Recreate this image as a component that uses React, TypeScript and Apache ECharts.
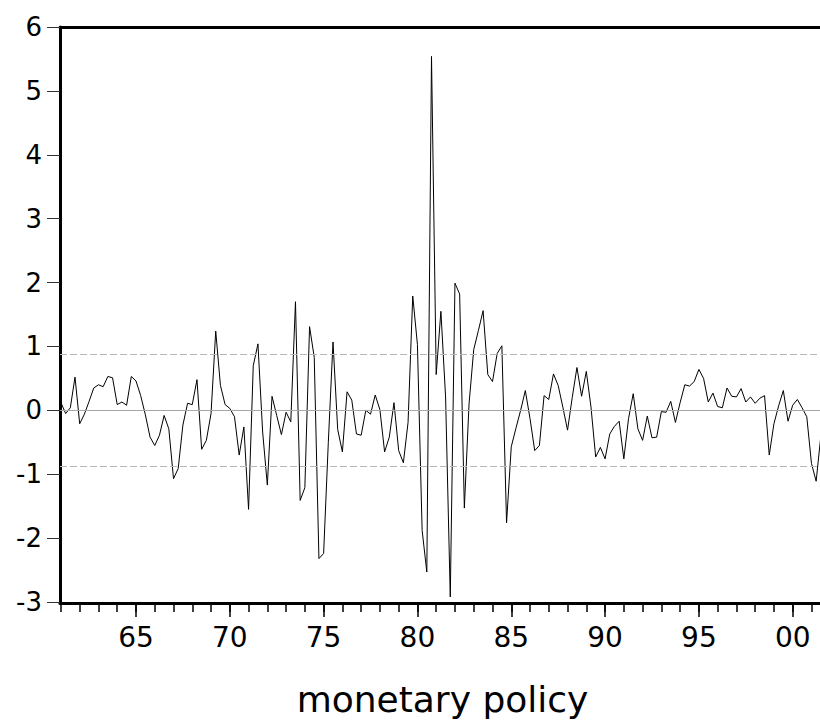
import React, { useEffect, useRef } from "react";
import * as echarts from "echarts";

// Quarterly series, first observation 1961Q1
const startYear = 1961;
const shock = [
  0.12, -0.05, 0.04, 0.52, -0.21, -0.06, 0.14, 0.35, 0.40, 0.37,
  0.53, 0.51, 0.09, 0.13, 0.08, 0.53, 0.46, 0.23, -0.07, -0.42,
  -0.55, -0.39, -0.08, -0.29, -1.07, -0.91, -0.23, 0.11, 0.09, 0.48,
  -0.61, -0.47, -0.05, 1.24, 0.39, 0.09, 0.03, -0.10, -0.70, -0.26,
  -1.55, 0.70, 1.04, -0.34, -1.17, 0.22, -0.08, -0.38, -0.03, -0.18,
  1.70, -1.41, -1.21, 1.31, 0.83, -2.32, -2.24, -0.50, 1.07, -0.30,
  -0.65, 0.29, 0.16, -0.37, -0.39, 0.00, -0.06, 0.24, 0.01, -0.65,
  -0.42, 0.12, -0.63, -0.82, -0.19, 1.79, 1.03, -1.88, -2.53, 5.54,
  0.56, 1.55, 0.21, -2.92, 1.99, 1.82, -1.53, 0.10, 0.95, 1.25,
  1.56, 0.56, 0.45, 0.89, 1.01, -1.76, -0.57, -0.28, 0.00, 0.31,
  -0.13, -0.63, -0.55, 0.23, 0.17, 0.57, 0.39, 0.05, -0.31, 0.20,
  0.67, 0.22, 0.61, 0.05, -0.73, -0.58, -0.76, -0.37, -0.25, -0.17,
  -0.76, -0.13, 0.26, -0.29, -0.47, -0.09, -0.43, -0.42, -0.02, -0.03,
  0.14, -0.19, 0.12, 0.40, 0.38, 0.45, 0.64, 0.50, 0.13, 0.27,
  0.06, 0.04, 0.35, 0.22, 0.21, 0.34, 0.13, 0.21, 0.11, 0.19,
  0.23, -0.70, -0.21, 0.07, 0.31, -0.17, 0.08, 0.17, 0.04, -0.10,
  -0.83, -1.11, -0.40,
];

const yearTicks = [
  1961, 1962, 1963, 1964, 1965, 1966, 1967, 1968, 1969, 1970,
  1971, 1972, 1973, 1974, 1975, 1976, 1977, 1978, 1979, 1980,
  1981, 1982, 1983, 1984, 1985, 1986, 1987, 1988, 1989, 1990,
  1991, 1992, 1993, 1994, 1995, 1996, 1997, 1998, 1999, 2000, 2001,
];
const labelYears = [1965, 1970, 1975, 1980, 1985, 1990, 1995, 2000];
const bandLevels = [0.88, -0.88];
const zeroLevel = 0;
const yMin = -3;
const yMax = 6;
const xMin = 1960.95;
const xMax = 2001.455;
const titleText = "monetary policy";

const FONT = "DejaVu Sans";

export default function App() {
  const ref = useRef<HTMLDivElement>(null);

  useEffect(() => {
    if (!ref.current) return;
    const chart = echarts.init(ref.current, null, { renderer: "svg" });

    const data = shock.map((v, i) => [startYear + i / 4, v]);

    const baseX = {
      type: "value" as const,
      min: xMin,
      max: xMax,
      splitLine: { show: false },
    };

    chart.setOption({
      animation: false,
      backgroundColor: "#ffffff",
      grid: { left: 60, top: 27, width: 760, height: 575, containLabel: false },
      xAxis: [
        {
          ...baseX,
          position: "bottom",
          offset: 1,
          axisLine: { show: true, onZero: false, lineStyle: { color: "#000", width: 3 } },
          axisTick: {
            show: true,
            inside: false,
            length: 9,
            customValues: yearTicks,
            lineStyle: { color: "#000", width: 1.5 },
          },
          axisLabel: {
            show: true,
            customValues: labelYears,
            formatter: (v: number) => String(Math.round(v) % 100).padStart(2, "0"),
            fontSize: 28,
            fontFamily: FONT,
            color: "#000",
            margin: 20,
          },
        },
        {
          ...baseX,
          position: "bottom",
          offset: 1,
          axisLine: { show: false, onZero: false },
          axisTick: {
            show: true,
            inside: false,
            length: 14,
            customValues: labelYears,
            lineStyle: { color: "#000", width: 1.5 },
          },
          axisLabel: { show: false },
        },
        {
          ...baseX,
          position: "top",
          axisLine: { show: true, onZero: false, lineStyle: { color: "#000", width: 3 } },
          axisTick: { show: false },
          axisLabel: { show: false },
        },
      ],
      yAxis: {
        type: "value",
        min: yMin,
        max: yMax,
        interval: 1,
        position: "left",
        axisLine: { show: true, onZero: false, lineStyle: { color: "#000", width: 3 } },
        axisTick: { show: true, inside: false, length: 13, lineStyle: { color: "#333", width: 1 } },
        axisLabel: { fontSize: 26, fontFamily: FONT, color: "#000", margin: 18 },
        splitLine: { show: false },
      },
      series: [
        {
          type: "line",
          xAxisIndex: 0,
          yAxisIndex: 0,
          data,
          symbol: "none",
          showSymbol: false,
          clip: true,
          lineStyle: { color: "#000", width: 1 },
          z: 3,
          markLine: {
            silent: true,
            symbol: ["none", "none"],
            label: { show: false },
            animation: false,
            data: [
              { yAxis: zeroLevel, lineStyle: { color: "#a6a6a6", type: "solid", width: 1 } },
              ...bandLevels.map((b) => ({
                yAxis: b,
                lineStyle: { color: "#b8b8b8", type: [7, 3], width: 1 },
              })),
            ],
          },
        },
      ],
      graphic: [
        {
          type: "text",
          x: 442.5,
          y: 699,
          style: {
            text: titleText,
            fontSize: 36,
            fontFamily: FONT,
            fill: "#000",
            textAlign: "center",
            textVerticalAlign: "middle",
          },
        },
      ],
    });

    return () => chart.dispose();
  }, []);

  return (
    <div
      ref={ref}
      style={{ position: "fixed", left: 0, top: 0, width: 820, height: 726, background: "#fff" }}
    />
  );
}
